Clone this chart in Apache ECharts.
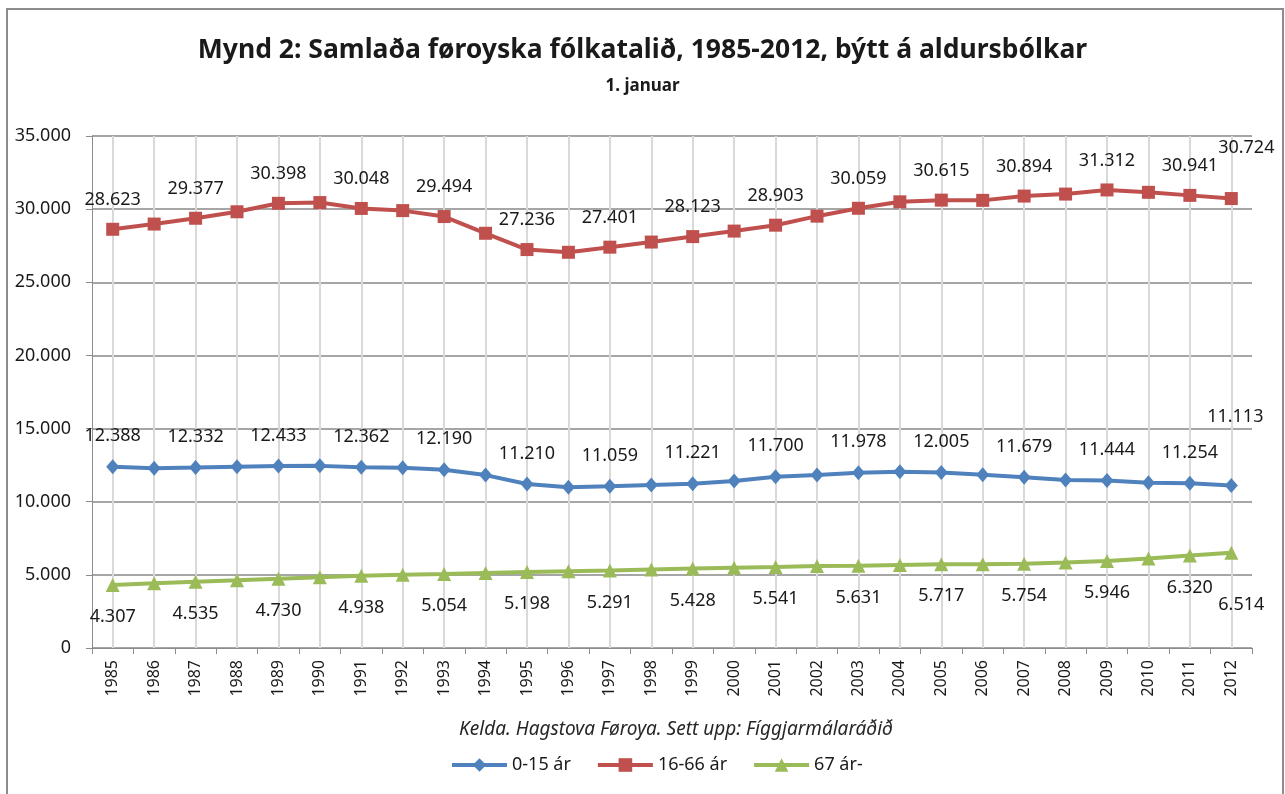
<!DOCTYPE html>
<html>
<head>
<meta charset="utf-8">
<script src="https://cdn.jsdelivr.net/npm/echarts@6/dist/echarts.min.js"></script>
<style>
  html, body { margin: 0; padding: 0; background: #fff; }
  #chart { width: 1285px; height: 794px; }
</style>
</head>
<body>
<div id="chart"></div>
<script>
var years = ['1985','1986','1987','1988','1989','1990','1991','1992','1993','1994',
  '1995','1996','1997','1998','1999','2000','2001','2002','2003','2004',
  '2005','2006','2007','2008','2009','2010','2011','2012'];
// 0-15 ár
var young = [12388, 12290, 12332, 12390, 12433, 12450, 12362, 12320, 12190, 11820,
  11210, 10990, 11059, 11140, 11221, 11420, 11700, 11830, 11978, 12050,
  12005, 11850, 11679, 11490, 11444, 11300, 11254, 11113];
// 16-66 ár
var adult = [28623, 28980, 29377, 29820, 30398, 30450, 30048, 29900, 29494, 28350,
  27236, 27050, 27401, 27750, 28123, 28500, 28903, 29520, 30059, 30500,
  30615, 30600, 30894, 31030, 31312, 31150, 30941, 30724];
// 67 ár-
var old = [4307, 4420, 4535, 4630, 4730, 4840, 4938, 5000, 5054, 5130,
  5198, 5250, 5291, 5360, 5428, 5490, 5541, 5600, 5631, 5680,
  5717, 5730, 5754, 5840, 5946, 6120, 6320, 6514];
var yTicks = [0, 5000, 10000, 15000, 20000, 25000, 30000, 35000];

var blue = '#4f81bd', red = '#c0504d', green = '#9bbb59';
var font = 'Noto Sans';

function fmt(v) {
  return String(v).replace(/\B(?=(\d{3})+(?!\d))/g, '.');
}

// label on every second year, last year moved a bit
function withLabels(arr, lastOffset) {
  return arr.map(function (v, i) {
    var item = {value: v, label: {show: i % 2 === 0 || i === arr.length - 1}};
    if (i === arr.length - 1) item.label.offset = lastOffset;
    return item;
  });
}

function lineSeries(name, data, color, symbol, size, pos, dist, lastOffset) {
  return {
    name: name,
    type: 'line',
    data: withLabels(data, lastOffset),
    symbol: symbol,
    symbolSize: size,
    showAllSymbol: true,
    itemStyle: {color: color},
    lineStyle: {color: color, width: 4},
    label: {
      position: pos,
      distance: dist,
      color: '#1a1a1a',
      fontFamily: font,
      fontSize: 18,
      formatter: function (p) { return fmt(p.value); }
    },
    emphasis: {disabled: true},
    animation: false
  };
}

var option = {
  backgroundColor: '#fff',
  title: [
    {
      text: 'Mynd 2: Samlaða føroyska fólkatalið, 1985-2012, býtt á aldursbólkar',
      left: 'center', top: 32,
      textStyle: {fontFamily: font, fontWeight: 'bold', fontSize: 26.5, color: '#1a1a1a'}
    },
    {
      text: '1. januar',
      left: 'center', top: 73,
      textStyle: {fontFamily: font, fontWeight: 'bold', fontSize: 17, color: '#1a1a1a'}
    },
    {
      text: 'Kelda. Hagstova Føroya. Sett upp: Fíggjarmálaráðið',
      left: 671, textAlign: 'center', top: 715,
      textStyle: {fontFamily: font, fontStyle: 'italic', fontWeight: 'normal', fontSize: 19, color: '#262626'}
    }
  ],
  graphic: [{
    type: 'rect',
    shape: {x: 7, y: 9, width: 1276, height: 800},
    style: {fill: 'none', stroke: '#8c8c8c', lineWidth: 2},
    silent: true
  }],
  legend: {
    bottom: 15,
    left: 445,
    itemWidth: 55,
    itemHeight: 17,
    itemGap: 25,
    lineStyle: {width: 4},
    textStyle: {fontFamily: font, fontSize: 18, color: '#1a1a1a'},
    data: ['0-15 ár', '16-66 ár', '67 ár-']
  },
  grid: {left: 92, right: 33, top: 136, bottom: 146},
  xAxis: {
    type: 'category',
    data: years,
    boundaryGap: true,
    axisLine: {lineStyle: {color: '#8c8c8c', width: 1}},
    axisTick: {show: true, length: 6, lineStyle: {color: '#8c8c8c'}},
    axisLabel: {rotate: 90, interval: 0, margin: 12, color: '#1a1a1a', fontFamily: font, fontSize: 16},
    splitLine: {show: true, alignWithLabel: true, interval: 0, lineStyle: {color: '#d9d9d9', width: 2}}
  },
  yAxis: {
    type: 'value',
    min: yTicks[0],
    max: yTicks[yTicks.length - 1],
    interval: 5000,
    axisLine: {show: true, lineStyle: {color: '#8c8c8c', width: 1}},
    axisTick: {show: true, length: 6, lineStyle: {color: '#8c8c8c'}},
    axisLabel: {
      margin: 21, color: '#1a1a1a', fontFamily: font, fontSize: 18,
      formatter: function (v) { return fmt(v); }
    },
    splitLine: {lineStyle: {color: '#a6a6a6', width: 2}}
  },
  series: [
    lineSeries('0-15 ár', young, blue, 'diamond', [13, 15], 'top', 14, [4, -38]),
    lineSeries('16-66 ár', adult, red, 'rect', 13, 'top', 14, [15, -21]),
    lineSeries('67 ár-', old, green, 'triangle', 14, 'bottom', 16, [10, 20])
  ]
};

var myChart = echarts.init(document.getElementById('chart'));
myChart.setOption(option);
</script>
</body>
</html>
